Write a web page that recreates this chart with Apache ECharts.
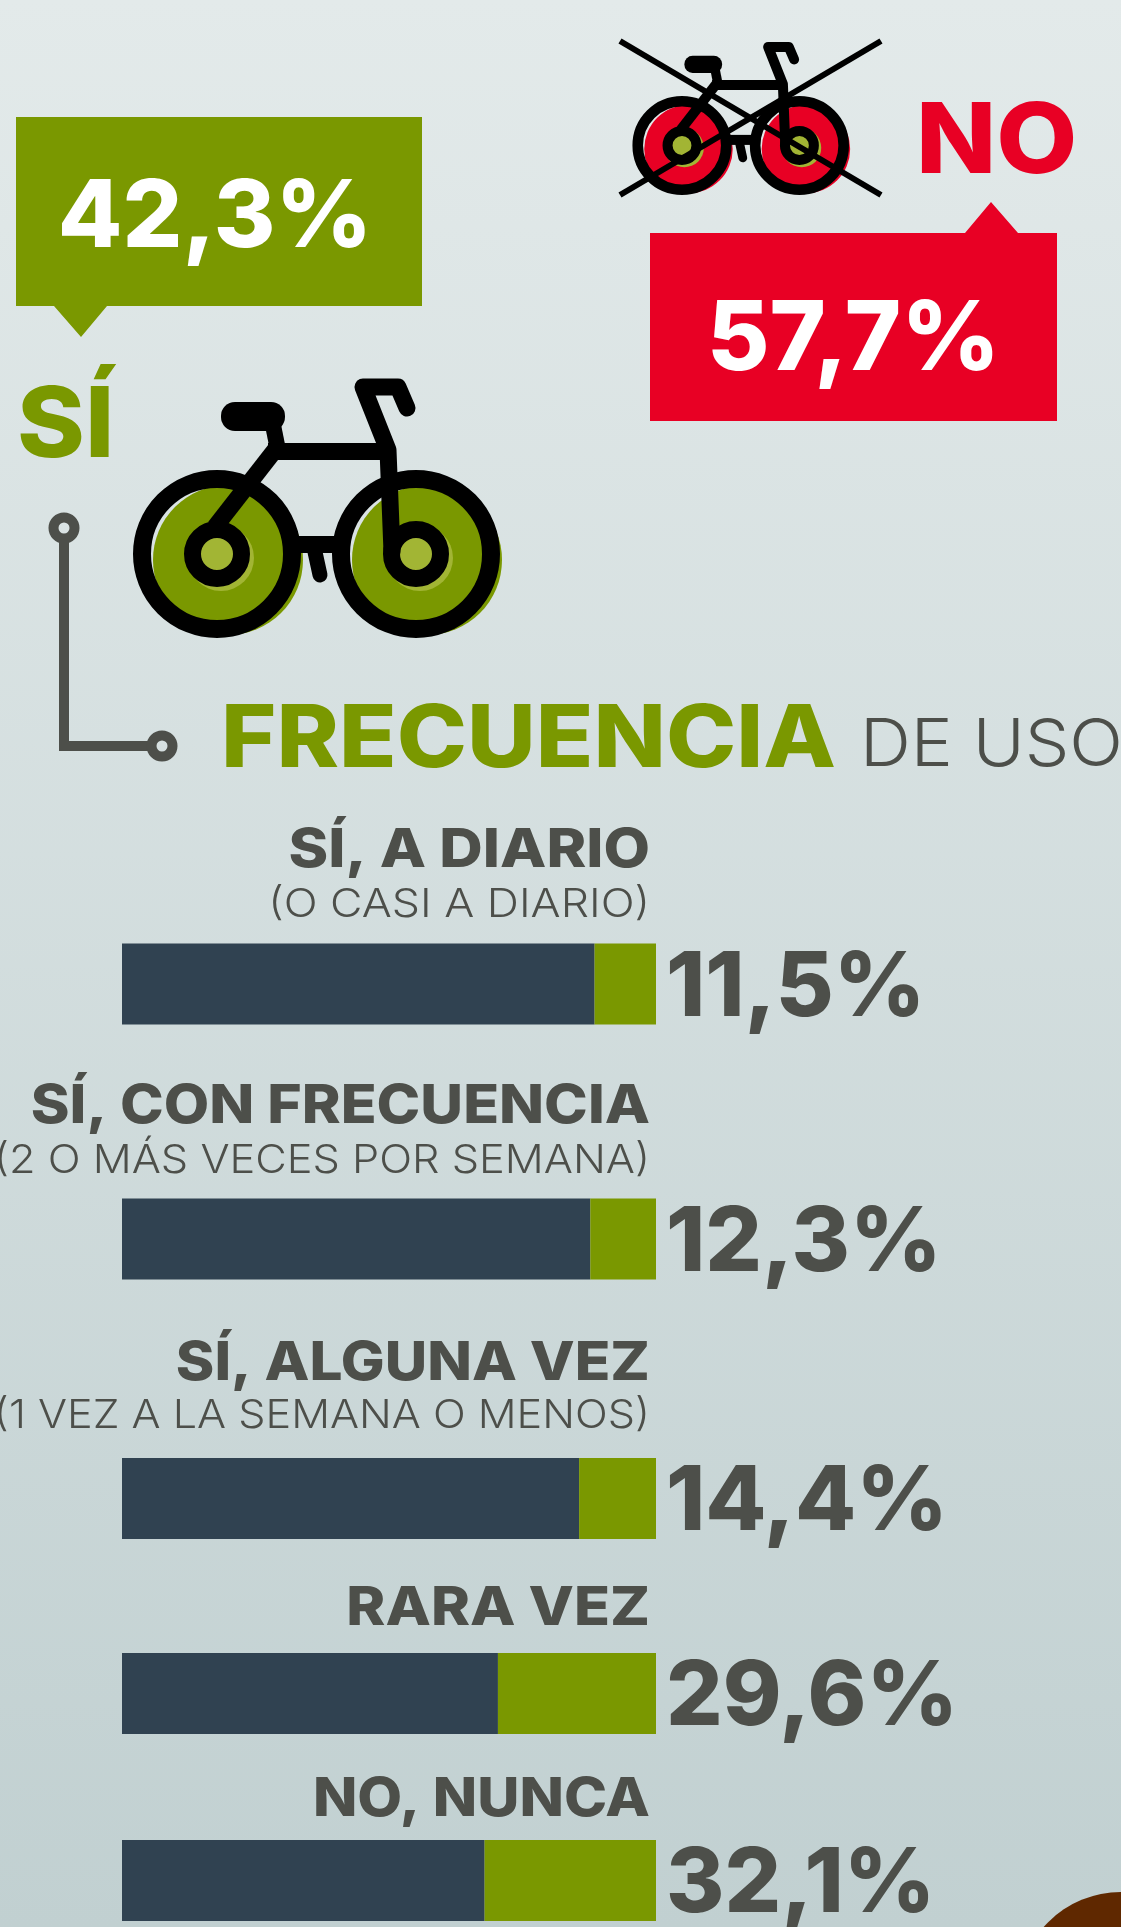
<!DOCTYPE html>
<html>
<head>
<meta charset="UTF-8">
<title>Frecuencia de uso</title>
<script src="https://cdn.jsdelivr.net/npm/echarts@6/dist/echarts.min.js"></script>
<style>
  html, body { margin: 0; padding: 0; }
</style>
</head>
<body>
<div id="main" style="width:1121px;height:1927px;"></div>
<script type="text/javascript">
    // datos
    var categories = ['SÍ, A DIARIO', 'SÍ, CON FRECUENCIA', 'SÍ, ALGUNA VEZ', 'RARA VEZ', 'NO, NUNCA'];
    var subLabels = ['(O CASI A DIARIO)', '(2 O MÁS VECES POR SEMANA)', '(1 VEZ A LA SEMANA O MENOS)', '', ''];
    var greenValues = [11.5, 12.3, 14.4, 29.6, 32.1];
    var darkValues = [88.5, 87.7, 85.6, 70.4, 67.9];
    var yesLabel = 'SÍ';
    var noLabel = 'NO';
    var yesShare = '42,3%';
    var noShare = '57,7%';

    // colocacion de cada fila
    var barTops = [943.5, 1198.5, 1458, 1653, 1840];
    var nameY = [851, 1107, 1364, 1609, 1800];
    var subY = [904.5, 1160.5, 1415.5, 0, 0];
    var nameScale = [1.115, 1.09, 1.082, 1.094, 1.075];
    var subScale = [1.115, 1.082, 1.078, 1, 1];

    var GREEN = '#7a9800', RED = '#e80024', DARK = '#304251', TEXT = '#4d4f4a', FONT = 'Inter';

    function txt(x, y, text, size, weight, fill, align, sx) {
        return { type: 'text', x: x, y: y, scaleX: sx || 1, silent: true,
            style: { text: text, fontFamily: FONT, fontSize: size, fontWeight: weight, fill: fill,
                     align: align || 'left', verticalAlign: 'middle' } };
    }
    function line(x1, y1, x2, y2, w, color, cap) {
        return { type: 'line', shape: { x1: x1, y1: y1, x2: x2, y2: y2 },
            style: { stroke: color || '#000', lineWidth: w, lineCap: cap || 'butt' } };
    }
    function ring(x, y, r, w, color, fill) {
        return { type: 'circle', shape: { cx: x, cy: y, r: r }, style: { fill: fill || 'none', stroke: color, lineWidth: w } };
    }

    // bici dibujada en las coordenadas de la grande, la pequeña se escala
    function bike(wheel, x, y, s) {
        var parts = [];
        [217, 416].forEach(function (cx) {
            parts.push({ type: 'circle', shape: { cx: cx + 11, cy: 560, r: 75 }, style: { fill: wheel } });
            parts.push({ type: 'circle', shape: { cx: cx + 4, cy: 558, r: 33 }, style: { fill: '#a2b534' } });
            parts.push(ring(cx, 554, 75, 18, '#000', 'none'));
            parts.push(ring(cx, 554, 24.5, 17, '#000', 'none'));
        });
        parts.push(line(275, 450, 215, 527, 17));
        parts.push(line(268, 451.5, 392, 451.5, 17));
        parts.push(line(278, 450, 272, 420, 16));
        parts.push({ type: 'rect', shape: { x: 221, y: 402, width: 64, height: 29, r: 14 }, style: { fill: '#000' } });
        parts.push({ type: 'polyline', shape: { points: [[392, 552], [388, 450], [363, 387], [398, 387], [407, 408]] },
            style: { stroke: '#000', fill: 'none', lineWidth: 17, lineJoin: 'round', lineCap: 'round' } });
        parts.push(line(296, 544.5, 340, 544.5, 17));
        parts.push(line(315, 552, 320, 575, 15, '#000', 'round'));
        return { type: 'group', x: x, y: y, scaleX: s, scaleY: s, children: parts };
    }

    var elements = [
        // caja SÍ
        { type: 'polygon', shape: { points: [[16, 117], [422, 117], [422, 306], [107, 306], [81, 337], [54, 306], [16, 306]] }, style: { fill: GREEN } },
        txt(215, 219, yesShare, 94, 800, '#fff', 'center'),
        txt(17, 428, yesLabel, 98, 800, GREEN, 'left', 1.05),
        // caja NO
        { type: 'polygon', shape: { points: [[650, 233], [965, 233], [991, 202], [1018, 233], [1057, 233], [1057, 421], [650, 421]] }, style: { fill: RED } },
        txt(853.5, 341, noShare, 96, 800, '#fff', 'center'),
        txt(916, 144, noLabel, 98, 800, RED, 'left', 1.07),
        // bicis
        bike(GREEN, 0, 0, 1),
        bike(RED, 682 - 217 * 0.59, 145.5 - 554 * 0.59, 0.59),
        line(620, 41, 881, 195, 6),
        line(620, 195, 881, 41, 6),
        // conector
        ring(64, 528, 10.5, 10, TEXT),
        line(64, 538, 64, 751, 10, TEXT),
        line(59, 746, 152, 746, 10, TEXT),
        ring(162, 746, 10.5, 10, TEXT),
        // titulo
        txt(221, 741, 'FRECUENCIA', 86, 800, GREEN, 'left', 1.1),
        txt(860, 746, 'DE USO', 66, 300, TEXT, 'left', 1.07),
        // mancha marrón de la esquina
        { type: 'circle', shape: { cx: 1121, cy: 1995, r: 103 }, style: { fill: '#5f2800' } }
    ];

    categories.forEach(function (name, i) {
        elements.push(txt(650, nameY[i], name, 54, 800, TEXT, 'right', nameScale[i]));
        if (subLabels[i]) {
            elements.push(txt(650, subY[i], subLabels[i], 40, 300, TEXT, 'right', subScale[i]));
        }
    });

    var grids = [], xAxes = [], yAxes = [], series = [];
    categories.forEach(function (name, i) {
        grids.push({ left: 122, width: 534, top: barTops[i], height: 81 });
        xAxes.push({ gridIndex: i, type: 'value', min: 0, max: 100, show: false });
        yAxes.push({ gridIndex: i, type: 'category', data: [name], show: false });
        series.push({
            type: 'bar', xAxisIndex: i, yAxisIndex: i, stack: 's' + i, barWidth: '100%',
            silent: true, itemStyle: { color: DARK }, data: [darkValues[i]]
        });
        series.push({
            type: 'bar', xAxisIndex: i, yAxisIndex: i, stack: 's' + i, barWidth: '100%',
            silent: true, itemStyle: { color: GREEN }, data: [greenValues[i]],
            label: {
                show: true, position: 'right', distance: 10, offset: [0, 5], color: TEXT,
                fontFamily: FONT, fontSize: 89, fontWeight: 800,
                formatter: function (p) { return p.value.toFixed(1).replace('.', ',') + '%'; }
            }
        });
    });

    var chart = echarts.init(document.getElementById('main'));
    chart.setOption({
        animation: false,
        backgroundColor: {
            type: 'linear', x: 0, y: 0, x2: 0, y2: 1,
            colorStops: [{ offset: 0, color: '#e3eaea' }, { offset: 1, color: '#c1d0d1' }]
        },
        grid: grids,
        xAxis: xAxes,
        yAxis: yAxes,
        series: series,
        graphic: { elements: elements }
    });
</script>
</body>
</html>
